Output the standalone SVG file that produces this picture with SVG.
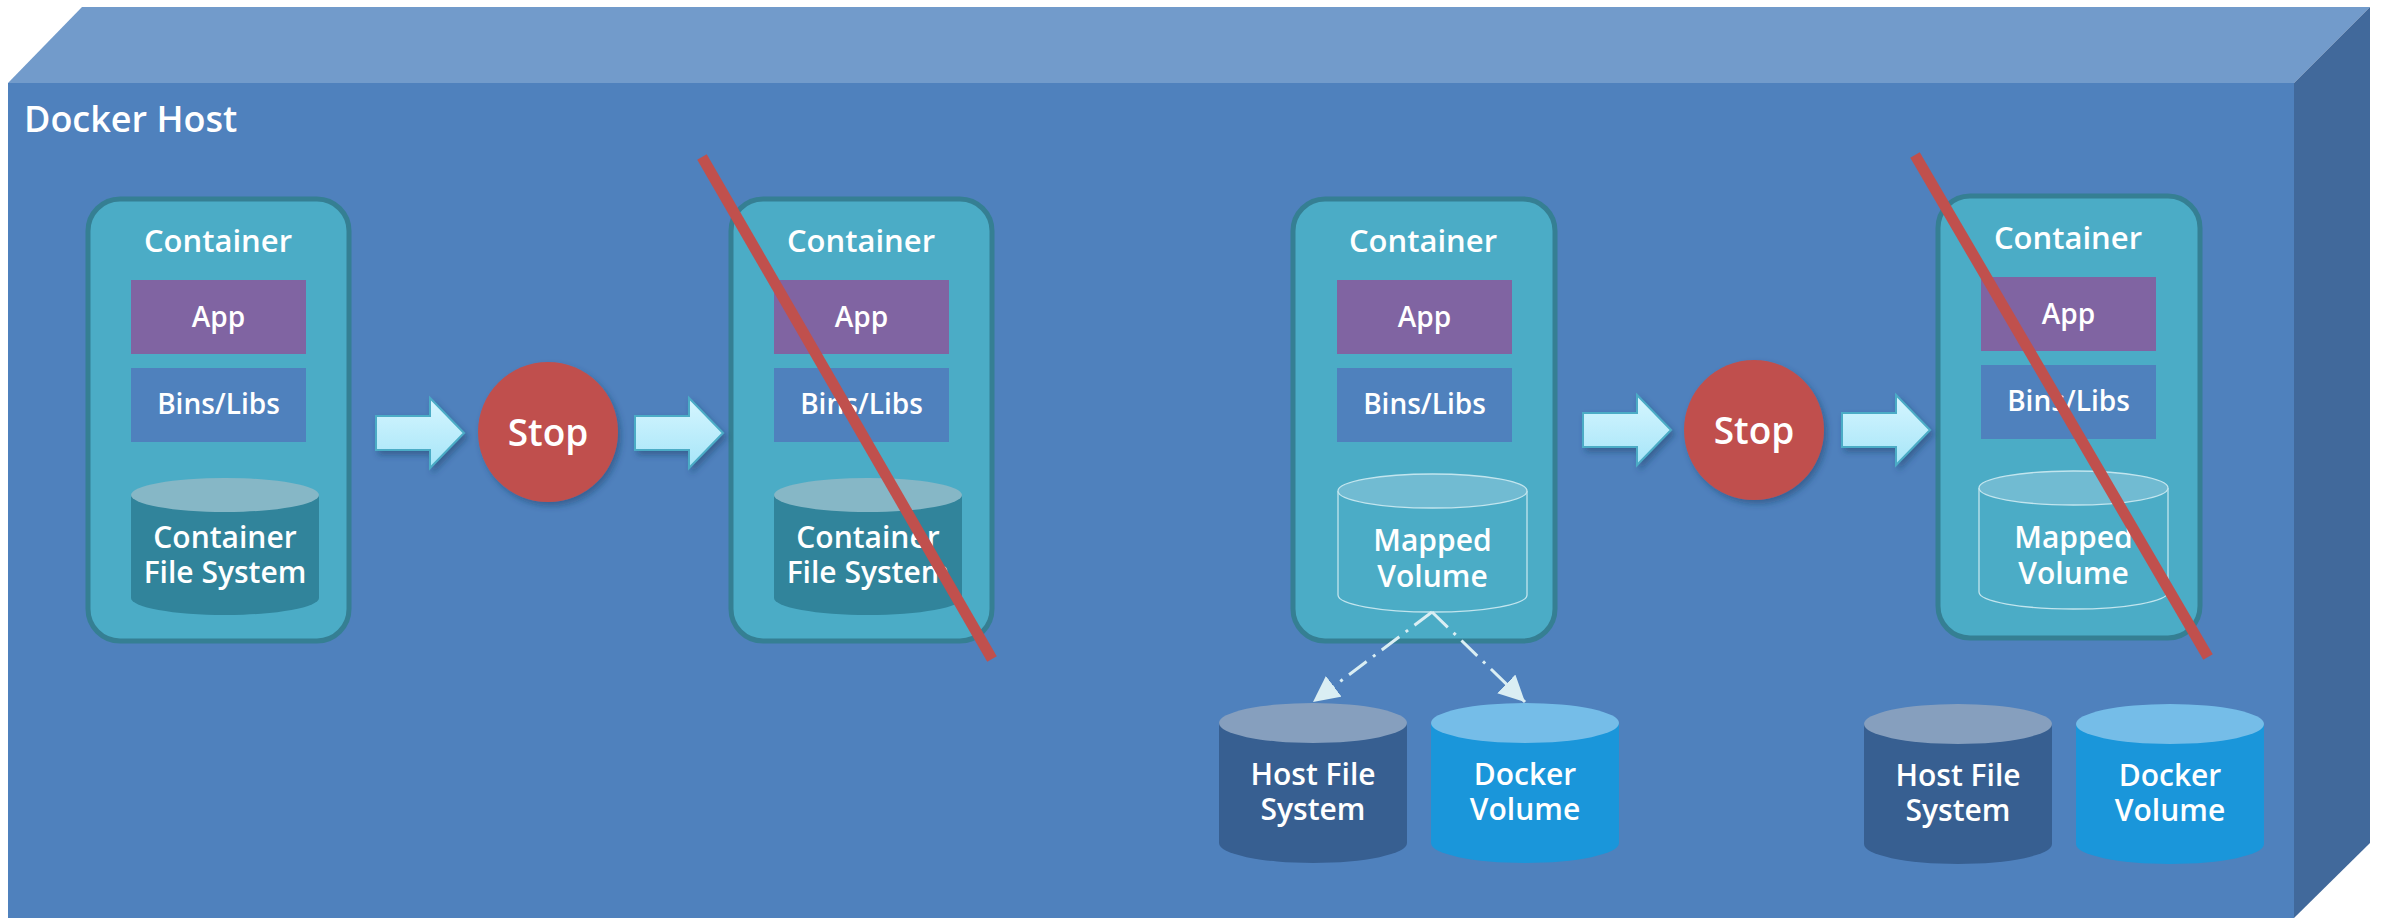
<svg xmlns="http://www.w3.org/2000/svg" width="2382" height="918" viewBox="0 0 2382 918">
<defs>
<style>
.t{font-family:"Open Sans","Liberation Sans",sans-serif;fill:#fff;text-anchor:middle}
.hdr{font-size:31px;font-weight:600}
.lbl{font-size:28px;font-weight:600}
.cyl{font-size:30px;font-weight:600}
.stop{font-size:37px;font-weight:600}
.cont{fill:#4bacc6;stroke:#357f93;stroke-width:5}
.app{fill:#8064a2}
.bins{fill:#4f81bd}
.cfsb{fill:#31849b}
.cfst{fill:#86b7c6}
.mvb{fill:none;stroke:#c2e5ee;stroke-width:1.3}
.mvt{fill:#71bbd2;stroke:#c2e5ee;stroke-width:1.3}
.hfb{fill:#375f91}
.hft{fill:#869fbe}
.dvb{fill:#1a96da}
.dvt{fill:#75bde8}
.x{stroke:#c0504d;stroke-width:11}
.arr{fill:url(#ag);stroke:#4bacc6;stroke-width:2;filter:url(#sh)}
.circ{fill:#c0504d;filter:url(#sh)}
.dd{fill:none;stroke:#daeef3;stroke-width:3;stroke-dasharray:22 8 3 8;marker-end:url(#ah)}
</style>
<linearGradient id="ag" x1="0" y1="0" x2="0" y2="1">
<stop offset="0" stop-color="#d6f6ff"/>
<stop offset="1" stop-color="#a6e5f8"/>
</linearGradient>
<filter id="sh" x="-20%" y="-20%" width="150%" height="150%">
<feDropShadow dx="3" dy="4" stdDeviation="3" flood-color="#1f3a5f" flood-opacity="0.45"/>
</filter>
<marker id="ah" markerUnits="userSpaceOnUse" markerWidth="30" markerHeight="28" refX="26" refY="13" orient="auto">
<path d="M0,0 L26,13 L0,26 z" fill="#daeef3"/>
</marker>
</defs>

<g id="host">
<rect x="0" y="0" width="2382" height="918" fill="#fff"/>
<polygon points="8,83 82,7 2370,7 2294,83" fill="#729bcb"/>
<polygon points="2294,83 2370,7 2370,843 2294,918" fill="#41699b"/>
<rect x="8" y="83" width="2286" height="835" fill="#4f81bd"/>
<text class="t" x="24" y="132" style="font-size:36px;font-weight:600;text-anchor:start">Docker Host</text>
</g>

<g id="container1">
<rect class="cont" x="88" y="199" width="261" height="442" rx="32"/>
<text class="t hdr" x="218" y="252">Container</text>
<rect class="app" x="131" y="280" width="175" height="74"/>
<text class="t lbl" x="218.5" y="327">App</text>
<rect class="bins" x="131" y="368" width="175" height="74"/>
<text class="t lbl" x="218.5" y="414">Bins/Libs</text>
<path class="cfsb" d="M131,495 V598 A94,17 0 0 0 319,598 V495 Z"/>
<ellipse class="cfst" cx="225" cy="495" rx="94" ry="17"/>
<text class="t cyl" x="225" y="548">Container</text>
<text class="t cyl" x="225" y="583">File System</text>
</g>

<g id="stop1">
<circle class="circ" cx="548" cy="432" r="70"/>
<text class="t stop" x="548" y="446">Stop</text>
</g>

<g id="container2">
<rect class="cont" x="731" y="199" width="261" height="442" rx="32"/>
<text class="t hdr" x="861" y="252">Container</text>
<rect class="app" x="774" y="280" width="175" height="74"/>
<text class="t lbl" x="861.5" y="327">App</text>
<rect class="bins" x="774" y="368" width="175" height="74"/>
<text class="t lbl" x="861.5" y="414">Bins/Libs</text>
<path class="cfsb" d="M774,495 V598 A94,17 0 0 0 962,598 V495 Z"/>
<ellipse class="cfst" cx="868" cy="495" rx="94" ry="17"/>
<text class="t cyl" x="868" y="548">Container</text>
<text class="t cyl" x="868" y="583">File System</text>
<line class="x" x1="702" y1="157" x2="992" y2="659"/>
</g>

<g id="container3">
<rect class="cont" x="1293" y="199" width="262" height="442" rx="32"/>
<text class="t hdr" x="1423" y="252">Container</text>
<rect class="app" x="1337" y="280" width="175" height="74"/>
<text class="t lbl" x="1424.5" y="327">App</text>
<rect class="bins" x="1337" y="368" width="175" height="74"/>
<text class="t lbl" x="1424.5" y="414">Bins/Libs</text>
<path class="mvb" d="M1338,491 V595 A94.5,17 0 0 0 1527,595 V491"/>
<ellipse class="mvt" cx="1432.5" cy="491" rx="94.5" ry="17"/>
<text class="t cyl" x="1432.5" y="551">Mapped</text>
<text class="t cyl" x="1432.5" y="587">Volume</text>
</g>

<g id="stop2">
<circle class="circ" cx="1754" cy="430" r="70"/>
<text class="t stop" x="1754" y="444">Stop</text>
</g>

<g id="container4">
<rect class="cont" x="1938" y="196" width="262" height="442" rx="32"/>
<text class="t hdr" x="2068" y="249">Container</text>
<rect class="app" x="1981" y="277" width="175" height="74"/>
<text class="t lbl" x="2068.5" y="324">App</text>
<rect class="bins" x="1981" y="365" width="175" height="74"/>
<text class="t lbl" x="2068.5" y="411">Bins/Libs</text>
<path class="mvb" d="M1979,488 V592 A94.5,17 0 0 0 2168,592 V488"/>
<ellipse class="mvt" cx="2073.5" cy="488" rx="94.5" ry="17"/>
<text class="t cyl" x="2073.5" y="548">Mapped</text>
<text class="t cyl" x="2073.5" y="584">Volume</text>
<line class="x" x1="1915" y1="155" x2="2208" y2="657"/>
</g>

<g id="hostfs1">
<path class="hfb" d="M1219,723 V843 A94,20 0 0 0 1407,843 V723 Z"/>
<ellipse class="hft" cx="1313" cy="723" rx="94" ry="20"/>
<text class="t cyl" x="1313" y="785">Host File</text>
<text class="t cyl" x="1313" y="820">System</text>
</g>
<g id="dockervol1">
<path class="dvb" d="M1431,723 V843 A94,20 0 0 0 1619,843 V723 Z"/>
<ellipse class="dvt" cx="1525" cy="723" rx="94" ry="20"/>
<text class="t cyl" x="1525" y="785">Docker</text>
<text class="t cyl" x="1525" y="820">Volume</text>
</g>
<g id="hostfs2">
<path class="hfb" d="M1864,724 V844 A94,20 0 0 0 2052,844 V724 Z"/>
<ellipse class="hft" cx="1958" cy="724" rx="94" ry="20"/>
<text class="t cyl" x="1958" y="786">Host File</text>
<text class="t cyl" x="1958" y="821">System</text>
</g>
<g id="dockervol2">
<path class="dvb" d="M2076,724 V844 A94,20 0 0 0 2264,844 V724 Z"/>
<ellipse class="dvt" cx="2170" cy="724" rx="94" ry="20"/>
<text class="t cyl" x="2170" y="786">Docker</text>
<text class="t cyl" x="2170" y="821">Volume</text>
</g>

<g id="connectors">
<path class="arr" transform="translate(376,433)" d="M0,-17 H54 V-35 L88,0 L54,35 V17 H0 Z"/>
<path class="arr" transform="translate(635,433)" d="M0,-17 H54 V-35 L88,0 L54,35 V17 H0 Z"/>
<path class="arr" transform="translate(1583,430)" d="M0,-17 H54 V-35 L88,0 L54,35 V17 H0 Z"/>
<path class="arr" transform="translate(1842,430)" d="M0,-17 H54 V-35 L88,0 L54,35 V17 H0 Z"/>
<path class="dd" d="M1432,612 L1313,702"/>
<path class="dd" d="M1432,612 L1525,702"/>
</g>
</svg>
